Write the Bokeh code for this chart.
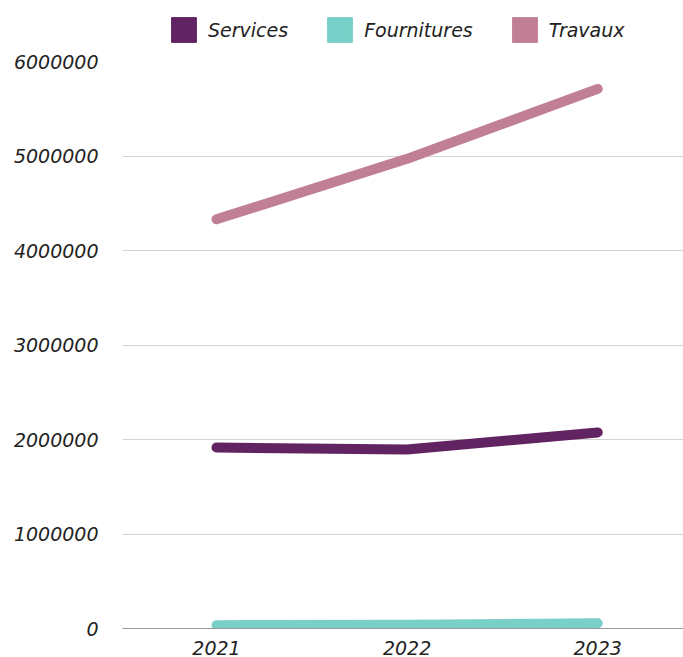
from bokeh.plotting import figure
from bokeh.layouts import column
from bokeh.models import (Range1d, FixedTicker, NumeralTickFormatter, Legend, LegendItem,
                          ColumnDataSource)
from bokeh.embed import file_html
from bokeh.resources import INLINE

years = [2021, 2022, 2023]
services = [1915000, 1895000, 2075000]
fournitures = [35000, 40000, 55000]
travaux = [4330000, 4970000, 5710000]
series_names = ["Services", "Fournitures", "Travaux"]
colors = ["#612362", "#78D0C8", "#C17F95"]
y_ticks = [0, 1000000, 2000000, 3000000, 4000000, 5000000, 6000000]

FONT = "DejaVu Sans"

p = figure(width=683, height=606, output_backend="svg", toolbar_location=None,
           x_range=Range1d(2020.507, 2023.45), y_range=Range1d(0, 6000000),
           min_border_left=122, min_border_right=0, min_border_bottom=29,
           min_border_top=10)
p.outline_line_color = None
p.background_fill_color = "white"
p.border_fill_color = "white"

p.xgrid.grid_line_color = None
p.ygrid.grid_line_color = "#d4d4d4"
p.ygrid.grid_line_width = 1

p.yaxis.ticker = FixedTicker(ticks=y_ticks)
p.yaxis.formatter = NumeralTickFormatter(format="0")
p.yaxis.axis_line_color = None
p.yaxis.major_tick_line_color = None
p.yaxis.minor_tick_line_color = None
p.yaxis.major_label_standoff = 18

p.xaxis.ticker = FixedTicker(ticks=years)
p.xaxis.axis_line_color = "#999999"
p.xaxis.major_tick_line_color = None
p.xaxis.minor_tick_line_color = None
p.xaxis.major_label_standoff = 6

for ax in (p.xaxis[0], p.yaxis[0]):
    ax.major_label_text_font = FONT
    ax.major_label_text_font_style = "italic"
    ax.major_label_text_font_size = "19px"
    ax.major_label_text_color = "#222222"

data = [services, fournitures, travaux]
for name, vals, col in zip(series_names, data, colors):
    src = ColumnDataSource(dict(x=years, y=vals))
    p.line("x", "y", source=src, line_color=col, line_width=10, line_cap="round",
           line_join="round")

# legend strip on top
lf = figure(width=683, height=51, output_backend="svg", toolbar_location=None,
            x_range=Range1d(0, 1), y_range=Range1d(0, 1),
            min_border_left=0, min_border_right=0, min_border_top=0,
            min_border_bottom=0)
lf.axis.visible = False
lf.grid.visible = False
lf.outline_line_color = None
lf.background_fill_color = "white"
lf.border_fill_color = "white"

items = []
for name, col in zip(series_names, colors):
    dummy = lf.quad(left=[5], right=[6], top=[6], bottom=[5],
                    fill_color=col, line_color=col)
    items.append(LegendItem(label=name, renderers=[dummy]))

legend = Legend(items=items, orientation="horizontal", location=(46, 6),
                label_text_font=FONT, label_text_font_style="italic",
                label_text_font_size="19px", label_text_color="#222222",
                glyph_width=31, glyph_height=31, spacing=36, label_standoff=9,
                border_line_color=None, background_fill_alpha=0, padding=0,
                margin=0)
lf.add_layout(legend, "center")

layout = column(lf, p, spacing=0)
open("out.html", "w").write(file_html(layout, INLINE))
